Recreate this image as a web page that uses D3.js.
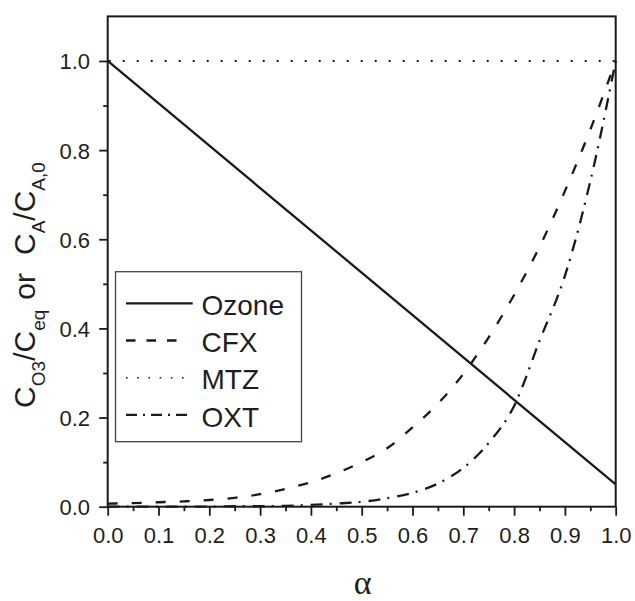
<!DOCTYPE html>
<html>
<head>
<meta charset="utf-8">
<script src="https://cdn.jsdelivr.net/npm/d3@7"></script>
<style>
  html, body { margin: 0; padding: 0; background: #fff; }
  svg { display: block; }
  text { font-family: "Liberation Sans", Arial, sans-serif; fill: #1e1e1e; }
</style>
</head>
<body>
<svg id="chart" width="635" height="601"></svg>
<script>
// Dimensionless position along the column
const alpha = [0.00, 0.05, 0.10, 0.15, 0.20, 0.25, 0.30, 0.35, 0.40, 0.45, 0.50,
               0.55, 0.60, 0.65, 0.70, 0.75, 0.80, 0.85, 0.90, 0.95, 1.00];
// Normalised concentration profiles
const cfx = [0.007, 0.008, 0.010, 0.012, 0.015, 0.020, 0.028, 0.040, 0.055, 0.075, 0.100,
             0.131, 0.178, 0.231, 0.298, 0.380, 0.475, 0.583, 0.708, 0.846, 1.000];
const oxt = [0.000, 0.000, 0.000, 0.000, 0.000, 0.001, 0.001, 0.002, 0.004, 0.007, 0.011,
             0.019, 0.031, 0.052, 0.087, 0.143, 0.226, 0.372, 0.518, 0.730, 1.000];
// Straight profiles only need their end points
const alphaEnds = [0.0, 1.0];
const ozone = [1.00, 0.05];
const mtz = [1.00, 1.00];

const seriesNames = ["Ozone", "CFX", "MTZ", "OXT"];
const xTicks = [0.0, 0.1, 0.2, 0.3, 0.4, 0.5, 0.6, 0.7, 0.8, 0.9, 1.0];
const xMinorTicks = [0.05, 0.15, 0.25, 0.35, 0.45, 0.55, 0.65, 0.75, 0.85, 0.95];
const yTicks = [0.0, 0.2, 0.4, 0.6, 0.8, 1.0];
const yMinorTicks = [0.1, 0.3, 0.5, 0.7, 0.9];

const svg = d3.select("#chart");
const plotLeft = 107.7, plotRight = 615.7, plotTop = 16.4, plotBottom = 506.7;
const ink = "#1a1a1a";

const x = d3.scaleLinear().domain([0, 1]).range([plotLeft, plotRight]);
const y = d3.scaleLinear().domain([0, 1.1]).range([plotBottom, plotTop]);

const straight = d3.line().x(d => x(d[0])).y(d => y(d[1]));
const smooth = d3.line().x(d => x(d[0])).y(d => y(d[1])).curve(d3.curveMonotoneX);

const styles = {
  Ozone: { dash: null },
  CFX:   { dash: "10,14" },
  MTZ:   { dash: "2,12" },
  OXT:   { dash: "12,7,2,8" }
};

const data = {
  Ozone: { pts: d3.zip(alphaEnds, ozone), gen: straight },
  CFX:   { pts: d3.zip(alpha, cfx), gen: smooth },
  MTZ:   { pts: d3.zip(alphaEnds, mtz), gen: straight },
  OXT:   { pts: d3.zip(alpha, oxt), gen: smooth }
};

const plot = svg.append("g");
["MTZ", "OXT", "CFX", "Ozone"].forEach(name => {
  plot.append("path")
    .attr("d", data[name].gen(data[name].pts))
    .attr("fill", "none")
    .attr("stroke", ink)
    .attr("stroke-width", name === "MTZ" ? 2 : 2.3)
    .attr("stroke-dasharray", styles[name].dash)
    .attr("stroke-dashoffset", name === "MTZ" ? -1 : 0);
});

// Axes
const fmt = d3.format(".1f");
function styleAxis(g) {
  g.select(".domain").remove();
  g.selectAll(".tick line").attr("stroke", ink).attr("stroke-width", 1.8);
}

svg.append("g")
  .attr("transform", `translate(0,${plotBottom})`)
  .call(d3.axisBottom(x).tickValues(xMinorTicks).tickSize(4.5).tickFormat(""))
  .call(styleAxis);
const xAxis = svg.append("g")
  .attr("transform", `translate(0,${plotBottom})`)
  .call(d3.axisBottom(x).tickValues(xTicks).tickSize(9).tickFormat(fmt))
  .call(styleAxis);
xAxis.selectAll("text")
  .attr("y", 36).attr("dy", 0)
  .style("font-size", "22px")
  .style("font-family", "'Liberation Sans', Arial, sans-serif")
  .attr("fill", "#1e1e1e");

svg.append("g")
  .attr("transform", `translate(${plotLeft},0)`)
  .call(d3.axisLeft(y).tickValues(yMinorTicks).tickSize(4.5).tickFormat(""))
  .call(styleAxis);
const yAxis = svg.append("g")
  .attr("transform", `translate(${plotLeft},0)`)
  .call(d3.axisLeft(y).tickValues(yTicks).tickSize(8.5).tickFormat(fmt))
  .call(styleAxis);
yAxis.selectAll("text")
  .attr("x", -17.7).attr("dy", "0.36em")
  .style("font-size", "22px")
  .style("font-family", "'Liberation Sans', Arial, sans-serif")
  .attr("fill", "#1e1e1e");

// Plot frame
svg.append("rect")
  .attr("x", plotLeft).attr("y", plotTop)
  .attr("width", plotRight - plotLeft).attr("height", plotBottom - plotTop)
  .attr("fill", "none").attr("stroke", ink).attr("stroke-width", 2);

// Axis titles
svg.append("text")
  .attr("x", (plotLeft + plotRight) / 2 + 1).attr("y", 594)
  .attr("text-anchor", "middle")
  .style("font-family", "'Liberation Serif', 'DejaVu Serif', serif")
  .style("font-size", "34px")
  .text("α");

const yTitle = svg.append("text")
  .attr("transform", "translate(35,285) rotate(-90)")
  .attr("text-anchor", "middle")
  .style("font-size", "30px");
const subSize = "19px", subShift = 10;
const parts = [
  ["C", false], ["O3", true], ["/C", false], ["eq", true],
  ["or", false, 10], ["C", false, 18], ["A", true], ["/C", false], ["A,0", true]
];
parts.forEach(([t, sub, gapBefore], i) => {
  const ts = yTitle.append("tspan").text(t);
  if (gapBefore) ts.attr("dx", gapBefore);
  if (sub) {
    ts.style("font-size", subSize).attr("dy", subShift);
  } else if (i > 0 && parts[i - 1][1]) {
    ts.attr("dy", -subShift);
  }
});

// Legend
const legend = svg.append("g");
legend.append("rect")
  .attr("x", 115.5).attr("y", 271.7)
  .attr("width", 186).attr("height", 170)
  .attr("fill", "#fff").attr("stroke", "#444").attr("stroke-width", 1.3);

const legendDash = { Ozone: null, CFX: "9.5,11", MTZ: "1.6,9.6", OXT: "11,6,2,6" };
const legendEnd = { Ozone: 192.7, CFX: 180, MTZ: 185, OXT: 190 };
seriesNames.forEach((name, i) => {
  const by = 315 + i * 37.2;
  legend.append("line")
    .attr("x1", 126).attr("x2", legendEnd[name])
    .attr("y1", by - 11.7).attr("y2", by - 11.7)
    .attr("stroke", ink).attr("stroke-width", name === "MTZ" ? 1.6 : 2.3)
    .attr("stroke-dasharray", legendDash[name]);
  legend.append("text")
    .attr("x", 201.5).attr("y", by)
    .style("font-size", "28px")
    .text(name);
});
</script>
</body>
</html>
